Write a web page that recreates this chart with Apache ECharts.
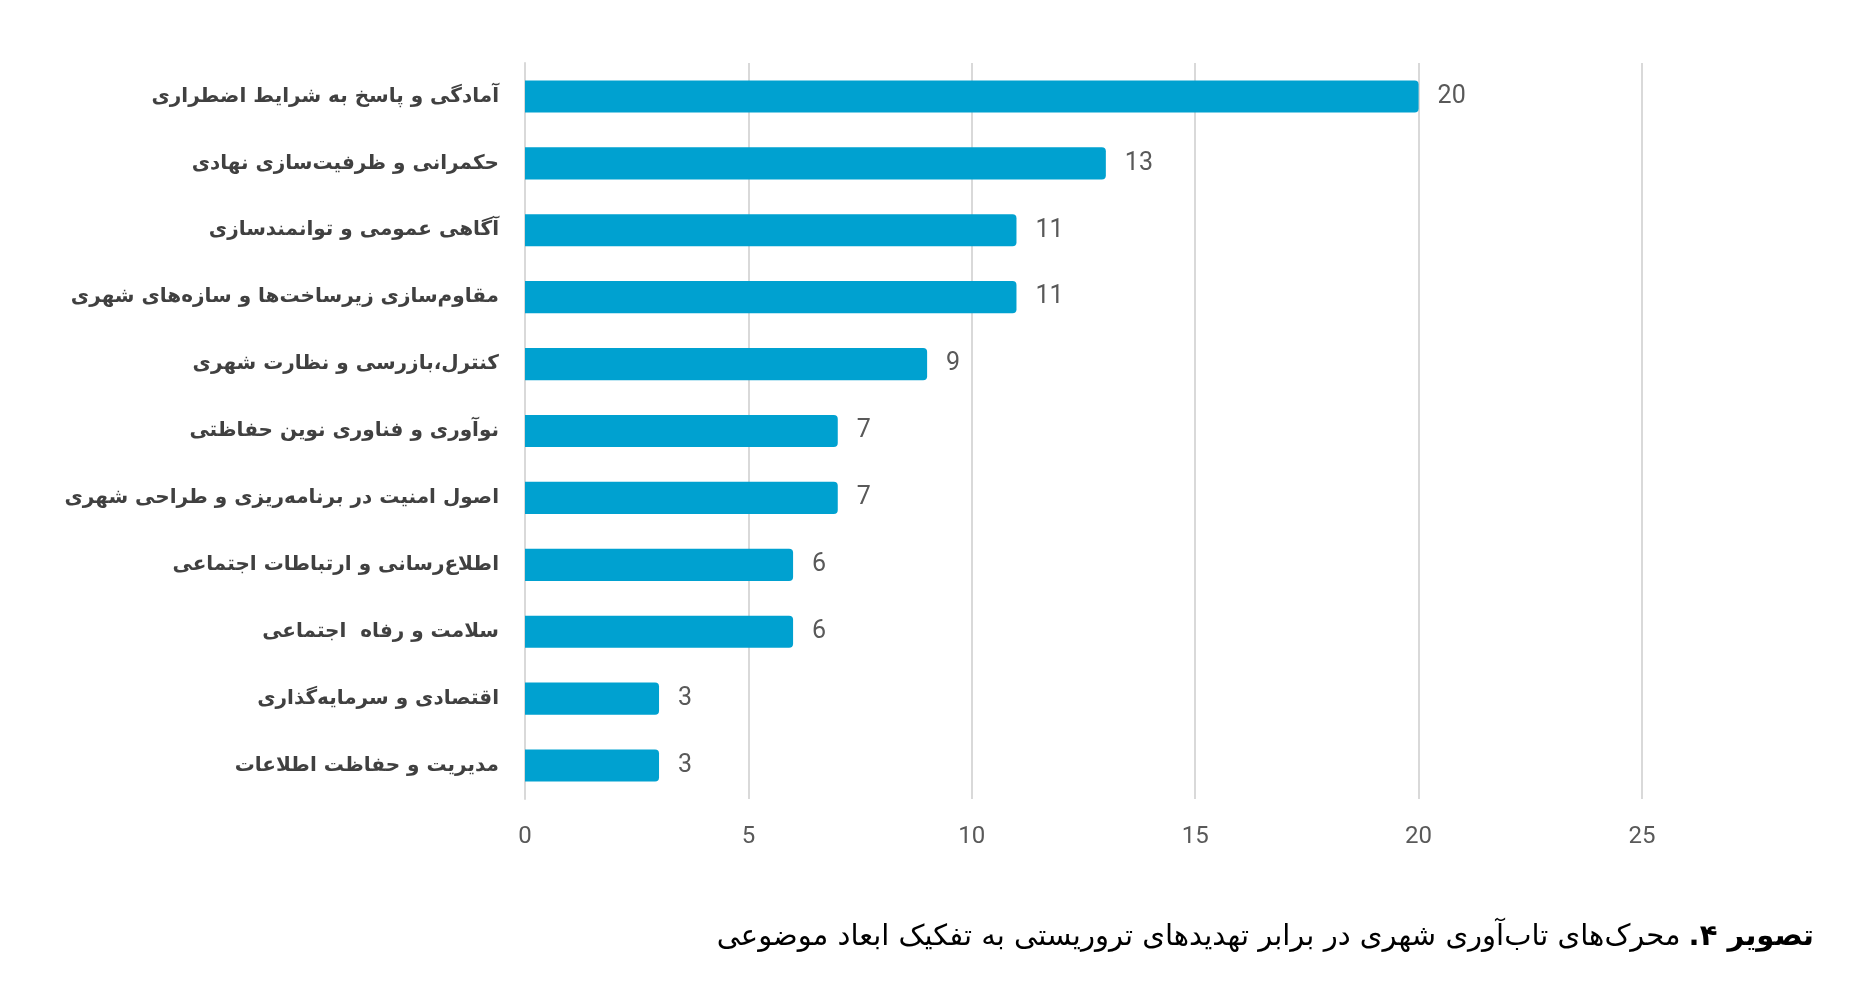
<!DOCTYPE html>
<html>
<head>
<meta charset="utf-8">
<script src="https://cdn.jsdelivr.net/npm/echarts@6/dist/echarts.min.js"></script>
<style>
  html, body { margin: 0; padding: 0; background: #fff; }
  #chart { width: 1862px; height: 989px; }
</style>
</head>
<body>
<div id="chart"></div>
<script>
  // دسته‌ها از بالا به پایین
  var categories = [
    'آمادگی و پاسخ به شرایط اضطراری',
    'حکمرانی و ظرفیت‌سازی نهادی',
    'آگاهی عمومی و توانمندسازی',
    'مقاوم‌سازی زیرساخت‌ها و سازه‌های شهری',
    'کنترل،بازرسی و نظارت شهری',
    'نوآوری و فناوری نوین حفاظتی',
    'اصول امنیت در برنامه‌ریزی و طراحی شهری',
    'اطلاع‌رسانی و ارتباطات اجتماعی',
    'سلامت و رفاه  اجتماعی',
    'اقتصادی و سرمایه‌گذاری',
    'مدیریت و حفاظت اطلاعات'
  ];
  var counts = [20, 13, 11, 11, 9, 7, 7, 6, 6, 3, 3];
  var xTicks = [0, 5, 10, 15, 20, 25];

  var captionBold = 'تصویر ۴.\u200F';
  var captionText = 'محرک‌های تاب‌آوری شهری در برابر تهدیدهای تروریستی به تفکیک ابعاد موضوعی';

  var capFont = '"DejaVu Sans", sans-serif';
  var capSize = 29;
  var capRight = 48;

  // عرض بخش پررنگ عنوان برای چیدن بخش عادی کنار آن
  var ctx = document.createElement('canvas').getContext('2d');
  ctx.font = 'bold ' + capSize + 'px ' + capFont;
  var boldWidth = ctx.measureText(captionBold).width;

  var myChart = echarts.init(document.getElementById('chart'));

  var option = {
    backgroundColor: '#ffffff',
    animation: false,
    grid: { left: 525, right: 220, top: 63, bottom: 190 },
    xAxis: {
      type: 'value',
      min: xTicks[0],
      max: xTicks[xTicks.length - 1],
      interval: xTicks[1] - xTicks[0],
      axisLine: { show: false },
      axisTick: { show: false },
      axisLabel: {
        color: '#595959',
        fontSize: 24,
        fontFamily: '"Liberation Sans Narrow", Roboto, sans-serif',
        margin: 26
      },
      splitLine: { lineStyle: { color: '#d9d9d9', width: 2 } }
    },
    yAxis: {
      type: 'category',
      inverse: true,
      data: categories,
      axisLine: { show: true, lineStyle: { color: '#d9d9d9', width: 2 } },
      axisTick: { show: false },
      axisLabel: {
        color: '#404040',
        fontSize: 20,
        fontWeight: 'bold',
        fontFamily: '"DejaVu Sans", sans-serif',
        margin: 26
      }
    },
    series: [{
      type: 'bar',
      data: counts,
      barWidth: '48%',
      itemStyle: {
        color: '#00a1d0',
        borderRadius: [0, 4, 4, 0]
      },
      label: {
        show: true,
        position: 'right',
        distance: 19,
        color: '#595959',
        fontSize: 25,
        fontFamily: '"Liberation Sans Narrow", Roboto, sans-serif'
      }
    }],
    graphic: [
      {
        type: 'text',
        id: 'capBold',
        right: capRight,
        top: 923,
        style: {
          text: captionBold,
          fill: '#000',
          fontSize: capSize,
          fontWeight: 'bold',
          fontFamily: capFont
        }
      },
      {
        type: 'text',
        id: 'capText',
        right: capRight + boldWidth + 8,
        top: 923,
        style: {
          text: captionText,
          fill: '#000',
          fontSize: capSize,
          fontFamily: capFont
        }
      }
    ]
  };

  myChart.setOption(option);
</script>
</body>
</html>
